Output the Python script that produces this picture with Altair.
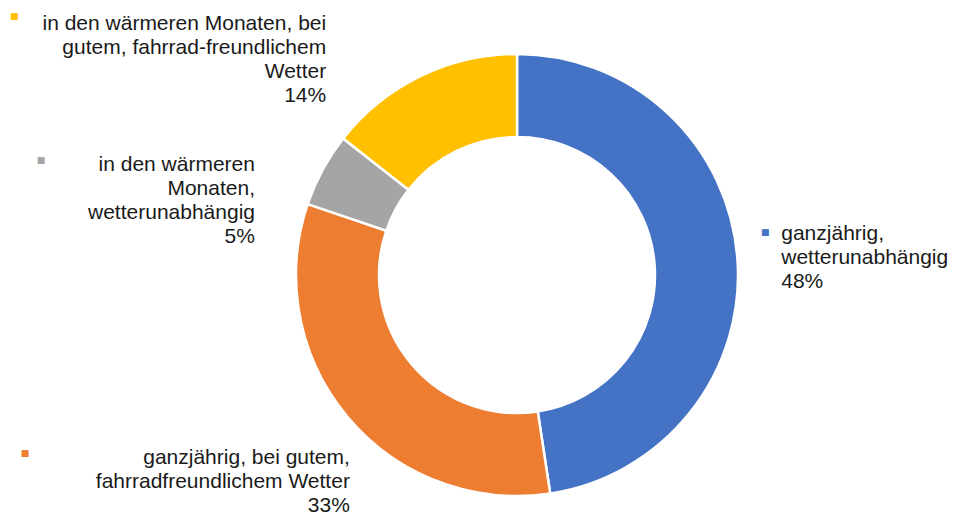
import altair as alt
import pandas as pd

# ---- data ----
categories = [
    "ganzjährig, wetterunabhängig",
    "ganzjährig, bei gutem, fahrradfreundlichem Wetter",
    "in den wärmeren Monaten, wetterunabhängig",
    "in den wärmeren Monaten, bei gutem, fahrrad-freundlichem Wetter",
]
label_lines = [
    ["ganzjährig,", "wetterunabhängig"],
    ["ganzjährig, bei gutem,", "fahrradfreundlichem Wetter"],
    ["in den wärmeren", "Monaten,", "wetterunabhängig"],
    ["in den wärmeren Monaten, bei", "gutem, fahrrad-freundlichem", "Wetter"],
]
# shares in percent (labels show them rounded)
values = [47.6, 32.6, 5.4, 14.4]
colors = ["#4472C4", "#ED7D31", "#A5A5A5", "#FFC000"]

total = sum(values)
df = pd.DataFrame({
    "idx": list(range(len(categories))),
    "cat": categories,
    "value": values,
    "label": ["\n".join(lines + [f"{round(v / total * 100)}%"]) for lines, v in zip(label_lines, values)],
    "marker": ["■"] * len(categories),
})

color_scale = alt.Scale(domain=categories, range=colors)
theta_scale = alt.Scale(domain=[0, total])

base = alt.Chart(df)

arc = base.mark_arc(outerRadius=221, innerRadius=138, stroke="white", strokeWidth=2.5).encode(
    theta=alt.Theta("value:Q", stack=True, scale=theta_scale),
    color=alt.Color("cat:N", scale=color_scale, legend=None),
    order=alt.Order("idx:Q"),
)

stacked = base.transform_stack(
    stack="value", groupby=[], sort=[alt.SortField("idx", order="ascending")], as_=["v0", "v1"]
).transform_calculate(mid="(datum.v0 + datum.v1) / 2")

# layout per label (text offsets and marker offsets relative to polar anchor)
layout = [
    dict(align="left", dx=0, dy=-21, mdx=-16, mdy=-23),
    dict(align="right", dx=36, dy=13, mdx=-289, mdy=8),
    dict(align="right", dx=-29, dy=16, mdx=-243, mdy=11),
    dict(align="right", dx=-75, dy=-12.5, mdx=-387, mdy=-20.5),
]

layers = [arc]
for i, lay in enumerate(layout):
    sub = stacked.transform_filter(alt.datum.idx == i)
    txt = sub.mark_text(
        radius=265, dx=lay["dx"], dy=lay["dy"], align=lay["align"], baseline="middle",
        lineBreak="\n", lineHeight=24, font="Liberation Sans", fontSize=21, color="#1a1a1a",
    ).encode(
        theta=alt.Theta("mid:Q", stack=False, scale=theta_scale),
        text="label:N",
    )
    mk = sub.mark_text(
        radius=265, dx=lay["mdx"], dy=lay["mdy"], align="center", baseline="middle",
        font="DejaVu Sans", fontSize=9,
    ).encode(
        theta=alt.Theta("mid:Q", stack=False, scale=theta_scale),
        text="marker:N",
        color=alt.Color("cat:N", scale=color_scale, legend=None),
    )
    layers += [txt, mk]

chart = alt.layer(*layers).properties(
    width=846, height=460,
    autosize=alt.AutoSizeParams(type="none"),
    padding={"left": 86, "top": 37, "right": 9, "bottom": 11},
).configure_view(stroke=None)

chart.save("out.html", embed_options={"renderer": "svg", "actions": False})
